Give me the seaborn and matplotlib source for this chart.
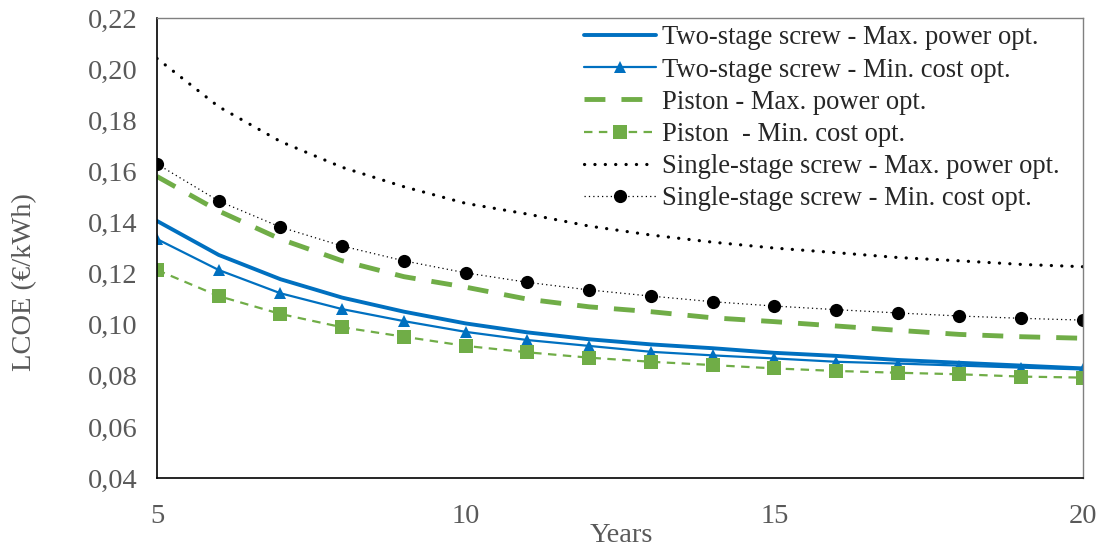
import matplotlib
matplotlib.use("Agg")
import matplotlib.pyplot as plt
import matplotlib.ticker as mticker
import numpy as np
import pandas as pd
import seaborn as sns

# ---- data ----
years = list(range(5, 21))

two_stage_max = [0.1406, 0.1273, 0.1178, 0.1106, 0.1051, 0.1005, 0.0970, 0.0943,
                 0.0923, 0.0908, 0.0890, 0.0878, 0.0862, 0.0851, 0.0840, 0.0829]
two_stage_min = [0.1335, 0.1214, 0.1123, 0.1061, 0.1014, 0.0972, 0.0940, 0.0917,
                 0.0894, 0.0880, 0.0868, 0.0855, 0.0848, 0.0840, 0.0832, 0.0825]
piston_max = [0.1580, 0.1445, 0.1335, 0.1250, 0.1188, 0.1147, 0.1100, 0.1070,
              0.1051, 0.1027, 0.1012, 0.0995, 0.0978, 0.0962, 0.0953, 0.0947]
piston_min = [0.1214, 0.1112, 0.1042, 0.0990, 0.0953, 0.0917, 0.0892, 0.0871,
              0.0855, 0.0842, 0.0829, 0.0819, 0.0812, 0.0806, 0.0797, 0.0793]
single_max = [0.2042, 0.1853, 0.1717, 0.1616, 0.1540, 0.1475, 0.1433, 0.1386,
              0.1351, 0.1323, 0.1300, 0.1282, 0.1263, 0.1250, 0.1236, 0.1227]
single_min = [0.1629, 0.1484, 0.1382, 0.1308, 0.1250, 0.1203, 0.1166, 0.1136,
              0.1112, 0.1090, 0.1073, 0.1059, 0.1046, 0.1034, 0.1025, 0.1018]

labels = [
    "Two-stage screw - Max. power opt.",
    "Two-stage screw - Min. cost opt.",
    "Piston - Max. power opt.",
    "Piston  - Min. cost opt.",
    "Single-stage screw - Max. power opt.",
    "Single-stage screw - Min. cost opt.",
]
yticks = [0.04, 0.06, 0.08, 0.10, 0.12, 0.14, 0.16, 0.18, 0.20, 0.22]
xticks = [5, 10, 15, 20]

BLUE = "#0070C0"
GREEN = "#70AD47"
GREY = "#595959"

df = pd.DataFrame({"Years": years})
series = [two_stage_max, two_stage_min, piston_max, piston_min, single_max, single_min]
for lab, vals in zip(labels, series):
    df[lab] = vals

sns.set_style("white")
plt.rcParams["font.family"] = ["Liberation Serif", "DejaVu Serif"]

fig = plt.figure(figsize=(11.05, 5.48), dpi=100)
ax = fig.add_axes([0.1421, 0.1277, 0.8379, 0.8393])

styles = [
    dict(color=BLUE, linewidth=2.8, linestyle="-"),
    dict(color=BLUE, linewidth=1.6, linestyle="-", marker="^", markersize=9,
         markeredgewidth=0),
    dict(color=GREEN, linewidth=3.5, dashes=(4.3, 3.3)),
    dict(color=GREEN, linewidth=1.6, dashes=(3.8, 2.9), marker="s", markersize=10,
         markeredgewidth=0),
    dict(color="black", linewidth=2.3, dashes=(0.05, 3.2), dash_capstyle="round"),
    dict(color="black", linewidth=0.9, dashes=(1, 2.5), marker="o", markersize=9.5,
         markeredgewidth=0),
]

for lab, st in zip(labels, styles):
    sns.lineplot(data=df, x="Years", y=lab, ax=ax, label=lab, **st)

ax.set_xlim(5, 20)
ax.set_ylim(0.04, 0.22)
ax.set_xticks(xticks)
ax.set_yticks(yticks)
ax.yaxis.set_major_formatter(
    mticker.FuncFormatter(lambda v, p: f"{v:.2f}".replace(".", ","))
)
ax.tick_params(axis="both", labelsize=20.5, labelcolor=GREY, colors="black",
               length=6, width=1.1, direction="out")
ax.tick_params(axis="x", pad=13)
ax.tick_params(axis="y", pad=8)

for side in ["left", "bottom"]:
    ax.spines[side].set_color("black")
    ax.spines[side].set_linewidth(1.2)
for side in ["top", "right"]:
    ax.spines[side].set_color("#808080")
    ax.spines[side].set_linewidth(1.0)

ax.set_xlabel("Years", fontsize=20.5, color=GREY)
ax.set_ylabel("LCOE (€/kWh)", fontsize=20.5, color=GREY)
ax.xaxis.label.set_verticalalignment("center")
ax.yaxis.label.set_verticalalignment("center")
ax.xaxis.set_label_coords(0.502, -0.124)
ax.yaxis.set_label_coords(-0.143, 0.426)

ax.legend(loc="upper left", bbox_to_anchor=(0.458, 0.99), frameon=False,
          fontsize=19.2, handlelength=2.7, handletextpad=0.25, labelspacing=0.27,
          borderaxespad=0.0, borderpad=0.1)

fig.savefig("out.png", dpi=100)
plt.close(fig)
